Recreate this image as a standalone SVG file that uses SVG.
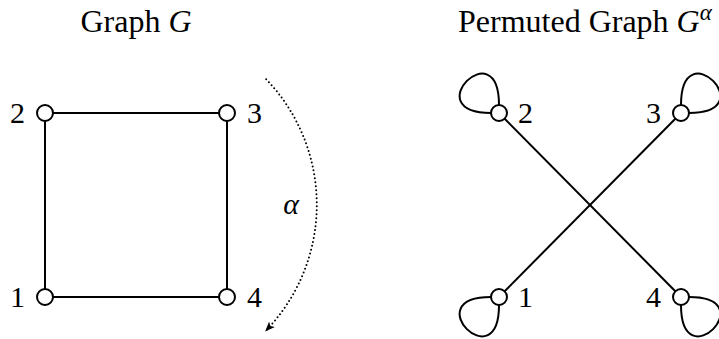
<svg xmlns="http://www.w3.org/2000/svg" width="719" height="339" viewBox="0 0 719 339">
<style>
text{font-family:"Liberation Serif","Times New Roman",serif;font-size:30px;fill:#000}
.title{font-size:32px}
.it{font-style:italic}
.node{fill:#fff;stroke:#000;stroke-width:2}
.edge{fill:none;stroke:#000;stroke-width:2}
.dot{fill:none;stroke:#000;stroke-width:2;stroke-dasharray:0 4;stroke-linecap:round}
</style>
<defs>
<marker id="ah" viewBox="0 0 10 10" refX="8" refY="5" markerWidth="10" markerHeight="10" markerUnits="userSpaceOnUse" orient="auto">
<path d="M0,1 L10,5 L0,9 L2.5,5 Z" fill="#000"/>
</marker>
</defs>
<text class="title" x="136" y="32" text-anchor="middle">Graph <tspan class="it">G</tspan></text>
<text class="title" x="458" y="32">Permuted Graph <tspan class="it">G</tspan><tspan class="it" font-size="23" dy="-12">α</tspan></text>
<g id="connectors">
<line class="edge" x1="45" y1="113" x2="227" y2="113"/>
<line class="edge" x1="227" y1="113" x2="227" y2="297"/>
<line class="edge" x1="227" y1="297" x2="45" y2="297"/>
<line class="edge" x1="45" y1="297" x2="45" y2="113"/>
<line class="edge" x1="499" y1="113" x2="681" y2="297"/>
<line class="edge" x1="681" y1="113" x2="499" y2="297"/>
<path class="edge" d="M499,105 C499,30 416,113 491,113"/>
<path class="edge" d="M681,105 C681,30 764,113 689,113"/>
<path class="edge" d="M499,305 C499,380 416,297 491,297"/>
<path class="edge" d="M681,305 C681,380 764,297 689,297"/>
<path class="dot" d="M266.2,79.3 A181,181 0 0 1 266.5,330" marker-end="url(#ah)"/>
</g>
<text class="it" x="291" y="214" text-anchor="middle">α</text>
<g id="g1">
<circle class="node" cx="45" cy="297" r="8"/><text x="25" y="307" text-anchor="end">1</text>
</g>
<g id="g2">
<circle class="node" cx="45" cy="113" r="8"/><text x="25" y="123" text-anchor="end">2</text>
</g>
<g id="g3">
<circle class="node" cx="227" cy="113" r="8"/><text x="247" y="123">3</text>
</g>
<g id="g4">
<circle class="node" cx="227" cy="297" r="8"/><text x="247" y="307">4</text>
</g>
<g id="p1">
<circle class="node" cx="499" cy="297" r="8"/><text x="518" y="307">1</text>
</g>
<g id="p2">
<circle class="node" cx="499" cy="113" r="8"/><text x="518" y="123">2</text>
</g>
<g id="p3">
<circle class="node" cx="681" cy="113" r="8"/><text x="661" y="123" text-anchor="end">3</text>
</g>
<g id="p4">
<circle class="node" cx="681" cy="297" r="8"/><text x="661" y="307" text-anchor="end">4</text>
</g>
</svg>
